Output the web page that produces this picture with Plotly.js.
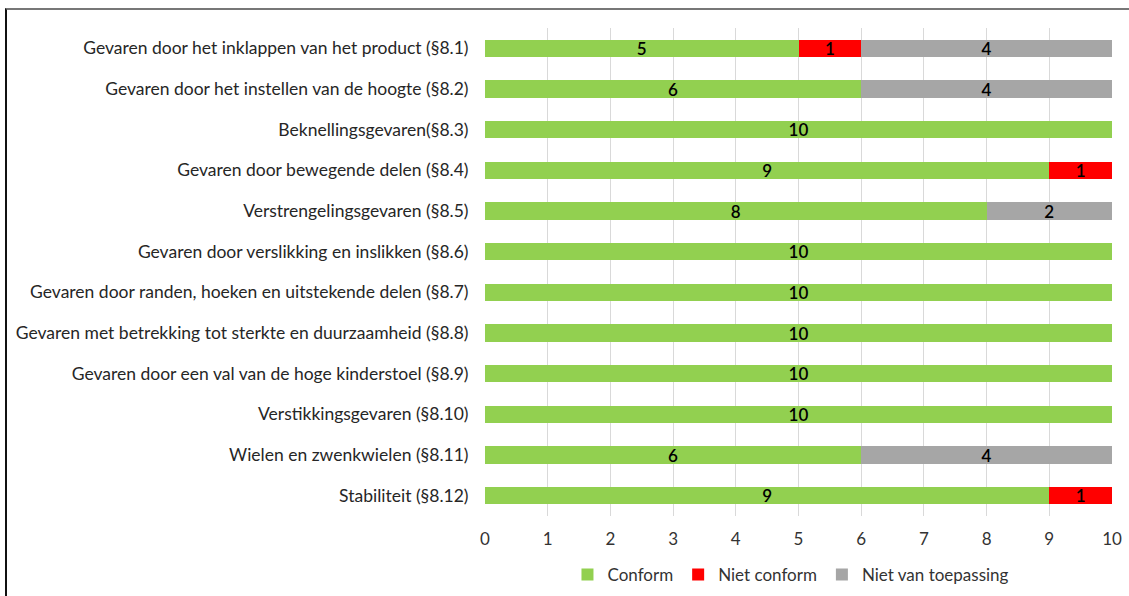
<!DOCTYPE html>
<html>
<head>
<meta charset="utf-8">
<script src="https://cdn.plot.ly/plotly-3.0.1.min.js"></script>
<style>
html,body{margin:0;padding:0;background:#fff;overflow:hidden;}
#frame{position:absolute;left:5px;top:8px;width:1200px;height:700px;border-left:2px solid #111;border-top:2px solid #777;box-sizing:border-box;pointer-events:none;z-index:5;}
#chart{position:absolute;left:0;top:0;width:1129px;height:596px;}
</style>
</head>
<body>
<div id="chart"></div>
<div id="frame"></div>
<script>
const categories = [
  "Gevaren door het inklappen van het product (§8.1)",
  "Gevaren door het instellen van de hoogte (§8.2)",
  "Beknellingsgevaren(§8.3)",
  "Gevaren door bewegende delen (§8.4)",
  "Verstrengelingsgevaren (§8.5)",
  "Gevaren door verslikking en inslikken (§8.6)",
  "Gevaren door randen, hoeken en uitstekende delen (§8.7)",
  "Gevaren met betrekking tot sterkte en duurzaamheid (§8.8)",
  "Gevaren door een val van de hoge kinderstoel (§8.9)",
  "Verstikkingsgevaren (§8.10)",
  "Wielen en zwenkwielen (§8.11)",
  "Stabiliteit (§8.12)"
];
const conform = [5, 6, 10, 9, 8, 10, 10, 10, 10, 10, 6, 9];
const nietConform = [1, 0, 0, 1, 0, 0, 0, 0, 0, 0, 0, 1];
const nietVanToepassing = [4, 4, 0, 0, 2, 0, 0, 0, 0, 0, 4, 0];
const xTicks = [0, 1, 2, 3, 4, 5, 6, 7, 8, 9, 10];

function labels(arr){ return arr.map(v => v > 0 ? String(v) : ""); }
function mk(name, vals, color){
  return {
    type: 'bar', orientation: 'h', name: name,
    y: categories, x: vals,
    marker: {color: color},
    text: labels(vals), textposition: 'inside', insidetextanchor: 'middle',
    textangle: 0, constraintext: 'none',
    textfont: {family: 'Lato, sans-serif', size: 17, color: '#000', weight: 600},
    hoverinfo: 'x+name'
  };
}
const data = [
  mk('Conform', conform, '#92D050'),
  mk('Niet conform', nietConform, '#FF0000'),
  mk('Niet van toepassing', nietVanToepassing, '#A6A6A6')
];
const layout = {
  width: 1129, height: 596,
  margin: {l: 485, r: 17, t: 28, b: 80, pad: 0, autoexpand: false},
  barmode: 'stack', bargap: 0.58,
  paper_bgcolor: '#fff', plot_bgcolor: '#fff',
  font: {family: 'Lato, sans-serif', size: 17, color: '#333'},
  showlegend: true,
  legend: {orientation: 'h', x: 0.488, xanchor: 'center', y: -0.121, yanchor: 'middle',
           font: {size: 17, color: '#333'}, itemwidth: 30, traceorder: 'normal'},
  xaxis: {range: [0, 10], tickvals: xTicks, ticktext: xTicks.map(String),
          showgrid: true, gridcolor: '#D9D9D9', gridwidth: 1, zeroline: false,
          showline: false, ticks: 'outside', ticklen: 8, tickcolor: 'rgba(0,0,0,0)',
          tickfont: {size: 17, color: '#333'}, fixedrange: true, automargin: false},
  yaxis: {autorange: 'reversed', showgrid: false, zeroline: false, showline: false,
          ticks: 'outside', ticklen: 12, tickcolor: 'rgba(0,0,0,0)',
          tickfont: {size: 17.5, color: '#262626'}, automargin: false}
};
Plotly.newPlot('chart', data, layout, {displayModeBar: false, staticPlot: true});
</script>
</body>
</html>
